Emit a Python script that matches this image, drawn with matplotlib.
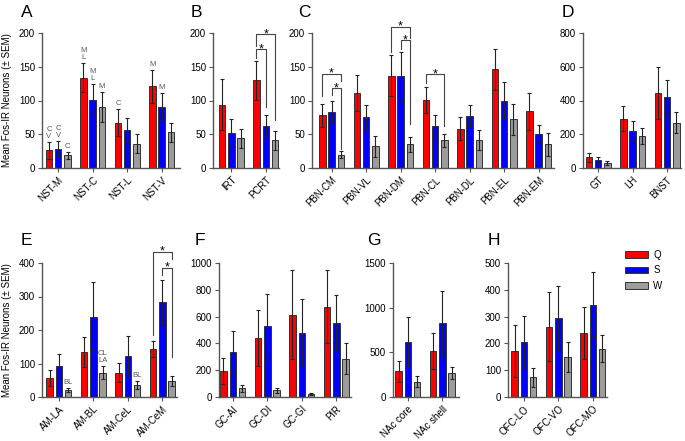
import numpy as np
import matplotlib.pyplot as plt
from matplotlib.patches import Patch

plt.rcParams['font.family'] = ['Liberation Sans', 'DejaVu Sans']

W, H = 685, 441
fig = plt.figure(figsize=(W / 100, H / 100), dpi=100)

series = ['Q', 'S', 'W']
colors = ['#ff0000', '#0000ff', '#9c9c9c']

# --- data (mean, SEM) ---
a_regions = ['NST-M', 'NST-C', 'NST-L', 'NST-V']
a_q, a_q_err = [26, 134, 67, 121], [12, 21, 20, 24]
a_s, a_s_err = [28, 101, 56, 90], [12, 23, 18, 21]
a_w, a_w_err = [19, 90, 36, 53], [5, 22, 14, 14]

b_regions = ['IRT', 'PCRT']
b_q, b_q_err = [94, 130], [38, 29]
b_s, b_s_err = [52, 62], [21, 16]
b_w, b_w_err = [44, 41], [14, 14]

c_regions = ['PBN-CM', 'PBN-VL', 'PBN-DM', 'PBN-CL', 'PBN-DL', 'PBN-EL', 'PBN-EM']
c_q, c_q_err = [78, 111, 137, 101, 58, 146, 84], [17, 27, 31, 19, 17, 31, 27]
c_s, c_s_err = [83, 75, 136, 62, 77, 100, 51], [17, 18, 36, 16, 16, 27, 13]
c_w, c_w_err = [20, 32, 35, 41, 41, 72, 35], [5, 16, 11, 10, 15, 23, 17]

d_regions = ['GT', 'LH', 'BNST']
d_q, d_q_err = [64, 292, 444], [26, 74, 154]
d_s, d_s_err = [46, 218, 420], [20, 58, 104]
d_w, d_w_err = [32, 190, 268], [12, 50, 62]

e_regions = ['AM-LA', 'AM-BL', 'AM-CeL', 'AM-CeM']
e_q, e_q_err = [58, 135, 73, 142], [24, 45, 28, 24]
e_s, e_s_err = [92, 239, 123, 283], [35, 103, 59, 67]
e_w, e_w_err = [20, 73, 35, 48], [6, 19, 12, 16]

f_regions = ['GC-AI', 'GC-DI', 'GC-GI', 'PIR']
f_q, f_q_err = [195, 440, 615, 675], [95, 210, 330, 275]
f_s, f_s_err = [335, 528, 480, 550], [155, 240, 250, 210]
f_w, f_w_err = [65, 50, 22, 285], [27, 18, 8, 115]

g_regions = ['NAc core', 'NAc shell']
g_q, g_q_err = [287, 515], [120, 205]
g_s, g_s_err = [620, 825], [275, 365]
g_w, g_w_err = [172, 268], [63, 72]

h_regions = ['OFC-LO', 'OFC-VO', 'OFC-MO']
h_q, h_q_err = [172, 263, 239], [97, 129, 98]
h_s, h_s_err = [206, 295, 345], [96, 119, 122]
h_w, h_w_err = [73, 150, 180], [36, 55, 50]

# letter, left px, xlim, ymax, ytick step, row
panels = [
    ('A', 42, (-0.47, 3.53), 200, 50, 0, a_regions, (a_q, a_s, a_w), (a_q_err, a_s_err, a_w_err)),
    ('B', 213, (-0.53, 1.38), 200, 50, 0, b_regions, (b_q, b_s, b_w), (b_q_err, b_s_err, b_w_err)),
    ('C', 312, (-0.57, 6.45), 200, 50, 0, c_regions, (c_q, c_s, c_w), (c_q_err, c_s_err, c_w_err)),
    ('D', 583, (-0.44, 2.4), 800, 200, 0, d_regions, (d_q, d_s, d_w), (d_q_err, d_s_err, d_w_err)),
    ('E', 42, (-0.49, 3.43), 400, 100, 1, e_regions, (e_q, e_s, e_w), (e_q_err, e_s_err, e_w_err)),
    ('F', 219, (-0.4, 3.43), 1000, 200, 1, f_regions, (f_q, f_s, f_w), (f_q_err, f_s_err, f_w_err)),
    ('G', 393, (-0.43, 1.49), 1500, 500, 1, g_regions, (g_q, g_s, g_w), (g_q_err, g_s_err, g_w_err)),
    ('H', 508, (-0.46, 2.4), 500, 100, 1, h_regions, (h_q, h_s, h_w), (h_q_err, h_s_err, h_w_err)),
]
letter_x = {'A': 21, 'B': 191, 'C': 298, 'D': 562, 'E': 21, 'F': 195, 'G': 367, 'H': 488}

rows = [(33, 168), (263, 397)]
pitch = 34.5
offsets = [-0.27, 0, 0.27]
bw = 0.19

axes = {}
for letter, left, xl, ymax, step, row, regions, vals, errs in panels:
    top, bot = rows[row]
    right = left + (xl[1] - xl[0]) * pitch
    ax = fig.add_axes([left / W, 1 - bot / H, (right - left) / W, (bot - top) / H])
    x = np.arange(len(regions))
    for k in range(3):
        ax.bar(x + offsets[k], vals[k], width=bw, color=colors[k], edgecolor='#333333',
               linewidth=0.7, yerr=errs[k], zorder=2,
               error_kw=dict(ecolor='#222222', elinewidth=0.8, capsize=1.6, capthick=0.8))
    ax.set_xlim(*xl)
    ax.set_ylim(0, ymax)
    ax.set_yticks(np.arange(0, ymax + 1, step))
    ax.set_xticks(x)
    ax.set_xticklabels(regions, rotation=45, ha='right', rotation_mode='anchor')
    for s in ['top', 'right']:
        ax.spines[s].set_visible(False)
    for s in ['left', 'bottom']:
        ax.spines[s].set_color('#555555')
        ax.spines[s].set_linewidth(1.0)
    ax.tick_params(length=3, width=0.8, color='#555555', labelsize=7, pad=2)
    fig.text(letter_x[letter] / W, 1 - (17 if row == 0 else 245) / H, letter,
             fontsize=12.5, va='baseline', ha='left')
    axes[letter] = ax

ylab = 'Mean Fos-IR Neurons (\u00b1 SEM)'
fig.text(7 / W, 1 - 100 / H, ylab, rotation=90, ha='center', va='center', fontsize=7)
fig.text(7 / W, 1 - 330 / H, ylab, rotation=90, ha='center', va='center', fontsize=7)


def bracket(ax, x1, x2, top, lb, rb):
    ax.plot([x1, x1, x2, x2], [lb, top, top, rb], color='#444444', lw=0.8,
            clip_on=False, zorder=3)
    ax.annotate('*', ((x1 + x2) / 2, top), xytext=(0, -2), textcoords='offset points',
                ha='center', va='baseline', fontsize=9, annotation_clip=False)


# significance brackets: panel, group, bar i, bar j, top, left leg end, right leg end
brackets = [
    ('B', 1, 0, 1, 176, 163, 91),
    ('B', 1, 0, 2, 198, 180, 71),
    ('C', 0, 0, 2, 140, 107, 129),
    ('C', 0, 1, 2, 118, 108, 28),
    ('C', 2, 0, 2, 209, 172, 193),
    ('C', 2, 1, 2, 189, 176, 65),
    ('C', 3, 0, 2, 139, 126, 62),
    ('E', 3, 0, 2, 433, 184, 413),
    ('E', 3, 1, 2, 385, 363, 119),
]
for p, g, i, j, top, lb, rb in brackets:
    bracket(axes[p], g + offsets[i], g + offsets[j], top, lb, rb)

# small letters above bars: panel, group, bar, text
marks = [
    ('A', 0, 0, 'C\nV'), ('A', 0, 1, 'C\nV'), ('A', 0, 2, 'C'),
    ('A', 1, 0, 'M\nL'), ('A', 1, 1, 'M\nL'), ('A', 1, 2, 'M'),
    ('A', 2, 0, 'C'), ('A', 3, 0, 'M'), ('A', 3, 1, 'M'),
    ('E', 0, 2, 'BL'), ('E', 1, 2, 'CL\nLA'), ('E', 2, 2, 'BL'),
]
lookup = {p[0]: p for p in panels}
for p, g, k, txt in marks:
    pv = lookup[p]
    y = pv[7][k][g] + pv[8][k][g]
    axes[p].annotate(txt, (g + offsets[k], y), xytext=(0, 1.5), textcoords='offset points',
                     ha='center', va='bottom', fontsize=5.5, color='#555555',
                     linespacing=1.0, annotation_clip=False)

handles = [Patch(facecolor=c, edgecolor='#333333', linewidth=0.7) for c in colors]
fig.legend(handles, series, loc='upper left', bbox_to_anchor=(625 / W, 1 - 250 / H),
           frameon=False, fontsize=7, handlelength=2.4, handleheight=0.65,
           labelspacing=0.55, handletextpad=0.5, borderpad=0, borderaxespad=0)

fig.savefig('out.png', dpi=100)
